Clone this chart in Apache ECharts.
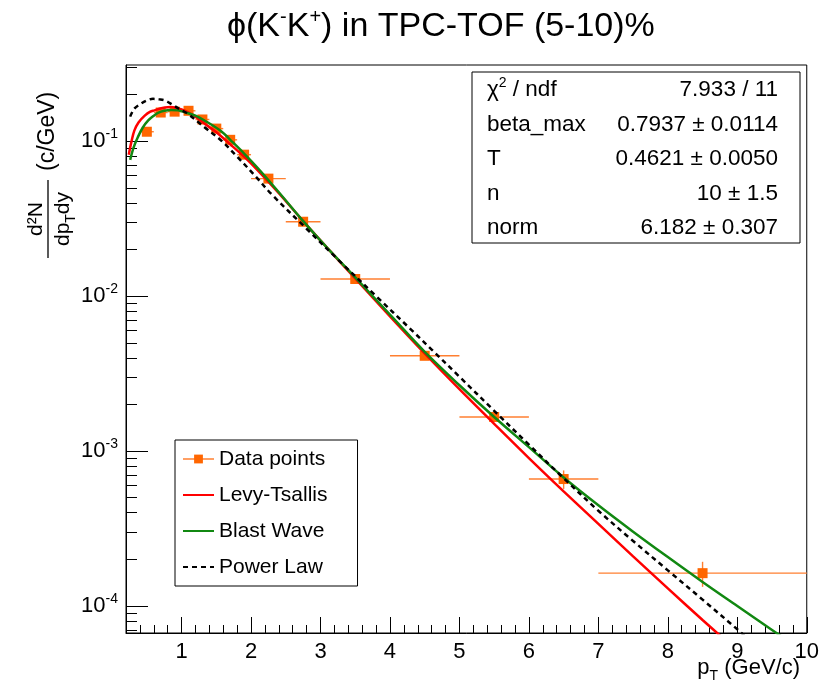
<!DOCTYPE html>
<html>
<head>
<meta charset="utf-8">
<script src="https://cdn.jsdelivr.net/npm/echarts@6/dist/echarts.min.js"></script>
<style>
  html, body { margin: 0; padding: 0; background: #fff; }
  #chart { width: 822px; height: 692px; }
</style>
</head>
<body>
<div id="chart"></div>
<script>
// data points (pT bin centres, yields, bin edges, yield errors)
const ptCenters = [0.5, 0.7, 0.9, 1.1, 1.3, 1.5, 1.7, 1.9, 2.25, 2.75, 3.5, 4.5, 5.5, 6.5, 8.5];
const ptLow     = [0.4, 0.6, 0.8, 1.0, 1.2, 1.4, 1.6, 1.8, 2.0, 2.5, 3.0, 4.0, 5.0, 6.0, 7.0];
const ptHigh    = [0.6, 0.8, 1.0, 1.2, 1.4, 1.6, 1.8, 2.0, 2.5, 3.0, 4.0, 5.0, 6.0, 7.0, 10.0];
const yields    = [0.115, 0.153, 0.155, 0.157, 0.138, 0.1205, 0.102, 0.0818, 0.0573, 0.0302, 0.0129, 0.00412, 0.00166, 0.00066, 0.000163];
const yieldErr  = [0.004, 0.004, 0.004, 0.004, 0.0035, 0.003, 0.0025, 0.002, 0.0015, 0.0008, 0.0004, 0.00015, 0.0001, 0.00009, 0.00003];

// fit curves
const levyPt  = [0.24, 0.28, 0.32, 0.38, 0.47, 0.55, 0.61, 0.68, 0.76, 0.84, 0.92, 1.0, 1.1, 1.2, 1.3, 1.5, 1.7, 1.9, 2.1, 2.4, 2.75, 3.1, 3.5, 4.0, 4.5, 5.0, 5.5, 6.0, 6.5, 7.0, 7.5, 8.0, 8.5, 8.8];
const levyVal = [0.0818, 0.100, 0.117, 0.132, 0.146, 0.155, 0.158, 0.162, 0.165, 0.166, 0.164, 0.160, 0.153, 0.144, 0.133, 0.114, 0.0955, 0.0794, 0.0646, 0.0462, 0.0305, 0.0204, 0.0130, 0.00741, 0.00427, 0.00251, 0.00150, 0.000902, 0.000550, 0.000339, 0.000209, 0.000130, 0.0000813, 0.0000617];

const bwPt  = [0.26, 0.31, 0.37, 0.44, 0.52, 0.6, 0.66, 0.75, 0.85, 0.95, 1.04, 1.2, 1.33, 1.57, 1.7, 1.9, 2.1, 2.4, 2.75, 3.1, 3.5, 4.0, 4.5, 5.0, 5.5, 6.0, 6.5, 7.0, 7.5, 8.0, 8.5, 9.0, 9.5, 9.65];
const bwVal = [0.0757, 0.0912, 0.106, 0.122, 0.136, 0.146, 0.152, 0.157, 0.159, 0.158, 0.154, 0.146, 0.136, 0.116, 0.102, 0.0832, 0.0668, 0.0468, 0.0305, 0.0204, 0.0132, 0.00759, 0.00437, 0.00266, 0.00166, 0.00106, 0.000676, 0.000447, 0.000302, 0.000207, 0.000143, 0.000100, 0.0000700, 0.0000631];

const plPt  = [0.26, 0.32, 0.42, 0.5, 0.59, 0.68, 0.76, 0.85, 1.0, 1.09, 1.33, 1.57, 1.81, 2.05, 2.3, 2.8, 3.3, 3.8, 4.3, 4.6, 5.0, 5.5, 6.0, 6.5, 7.0, 7.5, 8.0, 8.5, 9.0, 9.1];
const plVal = [0.144, 0.162, 0.175, 0.183, 0.1875, 0.186, 0.183, 0.174, 0.158, 0.150, 0.123, 0.101, 0.0785, 0.0603, 0.0452, 0.0272, 0.0164, 0.0100, 0.0061, 0.00452, 0.00302, 0.00182, 0.00110, 0.000668, 0.000412, 0.000263, 0.000170, 0.000110, 0.0000708, 0.0000646];

// axes
const xMajorTicks = [1, 2, 3, 4, 5, 6, 7, 8, 9, 10];
const yMajorTicks = [1e-4, 1e-3, 1e-2, 1e-1];

// fit box
const statNames  = ['{a|χ}{s|2}{a| / ndf}', 'beta_max', 'T', 'n', 'norm'];
const statValues = ['7.933 / 11', '0.7937 ± 0.0114', '0.4621 ± 0.0050', '10 ± 1.5', '6.182 ± 0.307'];

const FONT = 'Liberation Sans, Arial, Helvetica, sans-serif';

// minor ticks: 0.2 steps on x, 2..9 x 10^n on y
const xMinorTicks = [];
for (let i = 1; i <= 50; i++) {
    const v = Math.round(i * 2) / 10;
    if (v % 1 !== 0) xMinorTicks.push(v);
}
const yMinorTicks = [];
for (let e = -5; e <= -1; e++) {
    for (let k = 2; k <= 9; k++) yMinorTicks.push(+(k * Math.pow(10, e)).toPrecision(3));
}

const zip = (a, b) => a.map((v, i) => [v, b[i]]);

const chart = echarts.init(document.getElementById('chart'));

const statGraphics = [];
statNames.forEach((name, i) => {
    const y = 90 + i * 34.5;
    statGraphics.push({
        type: 'text', x: 487, y: y,
        style: {
            text: name, fill: '#000', fontSize: 22.5, fontFamily: FONT,
            align: 'left', verticalAlign: 'middle',
            rich: {
                a: {fontSize: 22.5, fontFamily: FONT, lineHeight: 28, verticalAlign: 'middle'},
                s: {fontSize: 14, fontFamily: FONT, lineHeight: 14, verticalAlign: 'top'}
            }
        }
    });
    statGraphics.push({
        type: 'text', x: 778, y: y,
        style: {
            text: statValues[i], fill: '#000', fontSize: 22.5, fontFamily: FONT,
            align: 'right', verticalAlign: 'middle'
        }
    });
});

const option = {
    animation: false,
    backgroundColor: '#fff',
    textStyle: {fontFamily: FONT},
    title: {
        text: '{a|ϕ(K}{s|-}{a|K}{s|+}{a|) in TPC-TOF (5-10)%}',
        left: 222,
        top: 2,
        textStyle: {
            fontWeight: 'normal',
            rich: {
                a: {fontSize: 34, fontFamily: FONT, fontWeight: 'normal', color: '#000', lineHeight: 40, verticalAlign: 'middle'},
                s: {fontSize: 20, fontFamily: FONT, fontWeight: 'normal', color: '#000', lineHeight: 20, verticalAlign: 'top'}
            }
        }
    },
    grid: {
        left: 126, right: 14, top: 65, bottom: 59,
        show: true, borderColor: '#000', borderWidth: 1
    },
    legend: {
        orient: 'vertical',
        left: 175,
        top: 440,
        itemWidth: 31,
        itemHeight: 11,
        itemGap: 12,
        padding: [7, 30, 7, 7],
        borderColor: '#000',
        borderWidth: 1,
        backgroundColor: '#fff',
        textStyle: {fontSize: 21, color: '#000', fontFamily: FONT, lineHeight: 24},
        data: [
            {name: 'Data points', lineStyle: {opacity: 1, width: 1.5, color: '#ff7f30'}},
            {name: 'Levy-Tsallis', itemStyle: {opacity: 0}},
            {name: 'Blast Wave', itemStyle: {opacity: 0}},
            {name: 'Power Law', itemStyle: {opacity: 0}}
        ]
    },
    xAxis: [{
        type: 'value', min: 0.2, max: 10,
        axisLine: {show: true, lineStyle: {color: '#000', width: 1}},
        axisTick: {show: true, inside: true, length: 16, customValues: xMajorTicks, lineStyle: {color: '#000'}},
        axisLabel: {customValues: xMajorTicks, fontSize: 22, color: '#000', margin: 8},
        splitLine: {show: false}
    }, {
        type: 'value', min: 0.2, max: 10, position: 'bottom',
        axisLine: {show: false},
        axisTick: {show: true, inside: true, length: 8, customValues: xMinorTicks, lineStyle: {color: '#000'}},
        axisLabel: {show: false},
        splitLine: {show: false}
    }],
    yAxis: [{
        type: 'log', min: 6.7e-5, max: 0.31,
        axisLine: {show: true, lineStyle: {color: '#000', width: 1}},
        axisTick: {show: true, inside: true, length: 22, customValues: yMajorTicks, lineStyle: {color: '#000'}},
        axisLabel: {
            customValues: yMajorTicks,
            margin: 8,
            formatter: function (v) {
                return '{b|10}{e|' + Math.round(Math.log10(v)) + '}';
            },
            rich: {
                b: {fontSize: 22, color: '#000', fontFamily: FONT, lineHeight: 28, verticalAlign: 'middle'},
                e: {fontSize: 14, color: '#000', fontFamily: FONT, lineHeight: 14, verticalAlign: 'top'}
            }
        },
        splitLine: {show: false}
    }, {
        type: 'log', min: 6.7e-5, max: 0.31, position: 'left',
        axisLine: {show: false},
        axisTick: {show: true, inside: true, length: 11, customValues: yMinorTicks, lineStyle: {color: '#000'}},
        axisLabel: {show: false},
        splitLine: {show: false}
    }],
    graphic: [
        // y axis title
        {
            type: 'group', x: 48, y: 219, rotation: Math.PI / 2,
            children: [
                {type: 'text', x: 0, y: -12, style: {text: 'd²N', fill: '#000', fontSize: 21, fontFamily: FONT, align: 'center', verticalAlign: 'middle'}},
                {type: 'line', shape: {x1: -39, y1: 0, x2: 39, y2: 0}, style: {stroke: '#000', lineWidth: 1.3}},
                {type: 'text', x: 0, y: 15, style: {
                    text: '{a|dp}{s|T}{a|dy}', align: 'center', verticalAlign: 'middle',
                    rich: {
                        a: {fontSize: 21, fontFamily: FONT, color: '#000', lineHeight: 30, verticalAlign: 'middle'},
                        s: {fontSize: 14, fontFamily: FONT, color: '#000', lineHeight: 14, verticalAlign: 'bottom'}
                    }
                }},
                {type: 'text', x: 48, y: 0, style: {text: '(c/GeV)', fill: '#000', fontSize: 23, fontFamily: FONT, align: 'left', verticalAlign: 'middle'}}
            ]
        },
        // x axis title
        {
            type: 'text', x: 800, y: 668,
            style: {
                text: '{a|p}{s|T}{a| (GeV/c)}', align: 'right', verticalAlign: 'middle',
                rich: {
                    a: {fontSize: 22, fontFamily: FONT, color: '#000', lineHeight: 30, verticalAlign: 'middle'},
                    s: {fontSize: 14, fontFamily: FONT, color: '#000', lineHeight: 14, verticalAlign: 'bottom'}
                }
            }
        },
        // fit parameter box
        {
            type: 'rect', shape: {x: 472, y: 72, width: 328, height: 171},
            style: {fill: '#fff', stroke: '#000', lineWidth: 1}
        }
    ].concat(statGraphics),
    series: [{
        name: 'errors',
        type: 'custom',
        xAxisIndex: 0, yAxisIndex: 0,
        z: 2,
        data: ptCenters.map((x, i) => [x, yields[i], ptLow[i], ptHigh[i], yields[i] - yieldErr[i], yields[i] + yieldErr[i]]),
        encode: {x: 0, y: 1},
        renderItem: function (params, api) {
            const l = api.coord([api.value(2), api.value(1)]);
            const r = api.coord([api.value(3), api.value(1)]);
            const lo = api.coord([api.value(0), api.value(4)]);
            const hi = api.coord([api.value(0), api.value(5)]);
            const style = {stroke: '#ff7f30', lineWidth: 1.4};
            return {
                type: 'group',
                children: [
                    {type: 'line', shape: {x1: l[0], y1: l[1], x2: r[0], y2: r[1]}, style: style},
                    {type: 'line', shape: {x1: lo[0], y1: lo[1], x2: hi[0], y2: hi[1]}, style: style}
                ]
            };
        }
    }, {
        name: 'Data points',
        type: 'line',
        z: 3,
        data: zip(ptCenters, yields),
        symbol: 'rect',
        symbolSize: 10,
        itemStyle: {color: '#ff6600'},
        lineStyle: {opacity: 0}
    }, {
        name: 'Levy-Tsallis',
        type: 'line',
        z: 4,
        data: zip(levyPt, levyVal),
        symbol: 'none',
        smooth: 0.35,
        itemStyle: {color: '#ff0000'},
        lineStyle: {color: '#ff0000', width: 2.5}
    }, {
        name: 'Blast Wave',
        type: 'line',
        z: 5,
        data: zip(bwPt, bwVal),
        symbol: 'none',
        smooth: 0.35,
        itemStyle: {color: '#118811'},
        lineStyle: {color: '#118811', width: 2.5}
    }, {
        name: 'Power Law',
        type: 'line',
        z: 6,
        data: zip(plPt, plVal),
        symbol: 'none',
        smooth: 0.35,
        itemStyle: {color: '#000'},
        lineStyle: {color: '#000', width: 2.5, type: [5, 4]}
    }]
};

chart.setOption(option);
</script>
</body>
</html>
